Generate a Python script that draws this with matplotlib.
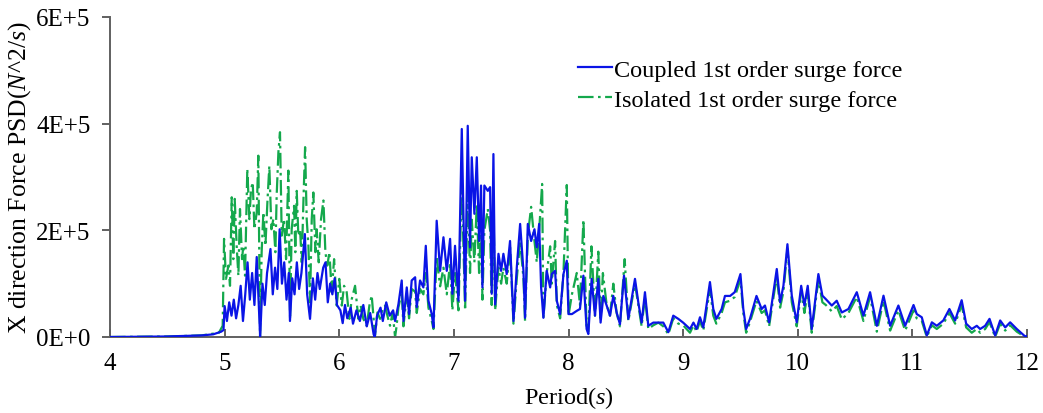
import matplotlib
matplotlib.use("Agg")
import matplotlib.pyplot as plt
import numpy as np

plt.rcParams['font.family'] = ['Liberation Serif', 'DejaVu Serif']
plt.rcParams['mathtext.fontset'] = 'custom'
plt.rcParams['mathtext.rm'] = 'Liberation Serif'
plt.rcParams['mathtext.it'] = 'Liberation Serif:italic'

# coupled 1st order surge force, PSD in units of 1E+4
coupled_period = [4.0, 4.5, 4.8, 4.9, 4.97, 4.99,
    5.00, 5.02, 5.04, 5.06, 5.08, 5.10, 5.12, 5.14, 5.16, 5.18, 5.20, 5.22, 5.24, 5.26,
    5.28, 5.31, 5.33, 5.35, 5.37, 5.40, 5.42, 5.44, 5.46, 5.48, 5.50, 5.52, 5.54, 5.56,
    5.57, 5.59, 5.61, 5.63, 5.65, 5.67, 5.70, 5.72, 5.745, 5.77, 5.79, 5.81, 5.83, 5.86,
    5.88, 5.90, 5.92, 5.94, 5.96, 5.98, 6.01, 6.03, 6.05, 6.07, 6.10, 6.12, 6.15, 6.18,
    6.21, 6.24, 6.27, 6.30, 6.31, 6.33, 6.36, 6.38, 6.41, 6.44, 6.47,
    6.487, 6.516, 6.545, 6.56, 6.589, 6.609, 6.632, 6.662, 6.676, 6.705, 6.734, 6.755,
    6.778, 6.807, 6.822, 6.85, 6.88, 6.909, 6.938, 6.967, 6.987, 7.01, 7.04, 7.069,
    7.098, 7.121, 7.141, 7.156, 7.179, 7.2, 7.22, 7.237, 7.249, 7.266, 7.296, 7.316,
    7.33, 7.345, 7.36, 7.389, 7.412, 7.432, 7.461, 7.49, 7.52, 7.549, 7.578, 7.607,
    7.621, 7.645, 7.674, 7.703, 7.723, 7.744, 7.761, 7.781, 7.81, 7.84, 7.854, 7.883,
    7.898, 7.927, 7.956, 7.985, 8.0, 8.03, 8.072, 8.1,
    8.13, 8.158, 8.173, 8.202, 8.231, 8.26, 8.28, 8.304, 8.333, 8.362, 8.391, 8.42,
    8.449, 8.484, 8.522, 8.58, 8.609, 8.638, 8.667, 8.696, 8.74, 8.784, 8.827, 8.871,
    8.914, 8.958, 9.0, 9.03, 9.06, 9.09, 9.118, 9.147, 9.176, 9.234, 9.263, 9.29,
    9.336, 9.365, 9.41, 9.45, 9.5, 9.525, 9.55, 9.583, 9.64, 9.685, 9.714,
    9.75, 9.817, 9.846, 9.875, 9.91, 9.948, 9.991, 10.03, 10.058, 10.087, 10.122, 10.18,
    10.215, 10.245, 10.297, 10.34, 10.384, 10.442, 10.515, 10.573, 10.631, 10.69, 10.748,
    10.806, 10.878,
    10.937, 11.01, 11.038, 11.082, 11.126, 11.17, 11.213, 11.27, 11.323, 11.373, 11.43,
    11.469, 11.518, 11.562, 11.591, 11.635, 11.673, 11.722, 11.766, 11.81, 11.853,
    11.911, 11.984, 12.0]
coupled_psd = [0, 0.1, 0.3, 0.5, 1.0, 1.3,
    5.8, 3.0, 6.5, 4.0, 7.0, 3.5, 6.0, 9.6, 3.0, 8.0, 14.0, 7.0, 12.0, 6.0,
    15.0, 0.0, 10.0, 6.0, 12.0, 16.5, 8.0, 13.0, 9.0, 20.2, 10.0, 14.0, 7.0, 12.0,
    3.0, 11.0, 8.0, 14.0, 9.0, 12.0, 19.3, 8.0, 3.4, 11.0, 7.0, 12.0, 9.0, 13.0,
    14.0, 6.5, 10.0, 8.0, 11.0, 6.0, 5.0, 2.6, 6.0, 3.5, 5.5, 2.5, 5.0, 3.0,
    6.0, 2.0, 4.5, 0.5, 0.0, 4.0, 5.5, 3.0, 6.5, 4.0, 5.0,
    3.0, 6.1, 10.6, 3.0, 9.3, 4.3, 10.6, 11.2, 5.6, 10.6, 9.3, 17.1,
    6.8, 4.3, 1.8, 21.8, 12.4, 18.7, 12.4, 18.4, 8.1, 17.1, 6.8, 39.0,
    6.8, 39.6, 16.8, 33.7, 23.1, 33.7, 18.0, 28.4, 9.3, 28.4, 27.4, 28.1,
    8.1, 34.3, 6.1, 15.6, 12.4, 15.6, 11.8, 18.0, 3.0, 13.1, 21.2, 12.4,
    3.6, 21.2, 18.0, 20.2, 16.8, 21.2, 9.3, 3.6, 12.4, 9.3, 11.8, 12.4,
    6.8, 4.3, 11.8, 14.3, 4.3, 4.3, 4.9, 5.25,
    11.5, 1.5, 0.56, 10.9, 4.0, 10.9, 2.7, 7.7, 5.9, 4.0, 7.7, 4.6,
    2.4, 11.5, 3.4, 10.9, 6.5, 2.7, 8.4, 2.1, 2.7, 2.7, 2.7, 0.9,
    4.0, 3.4, 2.7, 2.1, 1.5, 2.7, 1.5, 3.7, 1.8, 10.3, 5.25, 3.4,
    5.25, 7.7, 7.7, 8.4, 11.8, 5.25, 1.5, 3.4, 7.7, 5.25, 5.9,
    2.75, 12.75, 6.5, 9.6, 17.4, 7.75, 2.75, 9.6, 5.9, 9.6, 1.5, 11.8,
    7.75, 7.1, 5.9, 6.8, 4.6, 5.25, 8.4, 4.0, 8.4, 2.1, 7.75,
    2.1, 5.9,
    2.1, 6.0, 4.3, 3.7, 0.3, 2.75, 2.1, 3.1, 5.25, 3.1, 6.9,
    2.5, 1.5, 2.1, 1.5, 2.1, 3.4, 0.3, 3.1, 1.8, 2.75,
    1.5, 0.1, 0.2]

# isolated 1st order surge force, PSD in units of 1E+4
isolated_period = [4.0, 4.5, 4.8, 4.95, 4.983,
    4.995, 5.012, 5.033, 5.047, 5.062, 5.076, 5.088, 5.105, 5.12, 5.134, 5.152, 5.163,
    5.178, 5.198, 5.216, 5.23, 5.245, 5.26, 5.28, 5.294, 5.309, 5.323, 5.338, 5.356,
    5.373, 5.39, 5.408, 5.425, 5.443, 5.454, 5.469, 5.483, 5.498, 5.518, 5.536, 5.556,
    5.571, 5.585, 5.606, 5.617, 5.629, 5.643, 5.658, 5.673, 5.687, 5.702, 5.716, 5.731,
    5.745, 5.76, 5.774, 5.792, 5.803, 5.821, 5.841, 5.862, 5.879, 5.896, 5.914, 5.934,
    5.955, 5.978, 6.0, 6.022, 6.042, 6.065, 6.088, 6.109, 6.138, 6.167, 6.187, 6.21,
    6.24, 6.263, 6.283, 6.312, 6.333, 6.356, 6.38, 6.4, 6.42, 6.443, 6.466, 6.487,
    6.50, 6.516, 6.545, 6.56, 6.589, 6.609, 6.632, 6.662, 6.676, 6.705, 6.734, 6.755,
    6.778, 6.807, 6.822, 6.85, 6.88, 6.909, 6.938, 6.967, 6.987, 7.01, 7.04, 7.069,
    7.098, 7.121, 7.141, 7.156, 7.179, 7.2, 7.22, 7.237, 7.249, 7.266, 7.296, 7.316,
    7.33, 7.345, 7.36, 7.389, 7.412, 7.432, 7.461, 7.49, 7.52, 7.549, 7.578, 7.607,
    7.621, 7.645, 7.674, 7.703, 7.723, 7.744, 7.77, 7.781, 7.81, 7.84, 7.854, 7.883,
    7.898, 7.927, 7.956, 7.985, 8.0, 8.03, 8.072, 8.1, 8.13,
    8.158, 8.173, 8.20, 8.231, 8.26, 8.28, 8.30, 8.333, 8.362, 8.391, 8.42, 8.449,
    8.49, 8.522, 8.58, 8.609, 8.638, 8.667, 8.696, 8.74, 8.784, 8.827, 8.871, 8.914,
    8.958, 9.0, 9.03, 9.06, 9.09, 9.118, 9.147, 9.176, 9.234, 9.263, 9.29, 9.336,
    9.365, 9.41, 9.45, 9.5, 9.525, 9.55, 9.583, 9.64, 9.685, 9.714,
    9.75, 9.817, 9.846, 9.875, 9.91, 9.948, 9.991, 10.03, 10.058, 10.087, 10.122, 10.18,
    10.215, 10.245, 10.297, 10.34, 10.384, 10.442, 10.515, 10.573, 10.631, 10.69, 10.748,
    10.806, 10.878,
    10.937, 11.01, 11.038, 11.082, 11.126, 11.17, 11.213, 11.27, 11.323, 11.373, 11.43,
    11.469, 11.518, 11.562, 11.591, 11.635, 11.673, 11.722, 11.766, 11.81, 11.853,
    11.911, 11.984, 12.0]
isolated_psd = [0, 0.1, 0.3, 0.8, 2.1,
    18.4, 10.9, 13.4, 9.6, 26.2, 14.6, 25.9, 17.1, 11.5, 24.0, 14.6, 17.1,
    11.5, 31.5, 22.1, 27.7, 29.0, 20.2, 23.4, 34.0, 0.0, 15.9, 23.4, 17.1,
    25.2, 32.1, 20.2, 22.1, 15.9, 26.5, 34.6, 38.4, 19.0, 22.1, 14.6, 31.2,
    3.4, 20.2, 24.6, 15.9, 27.4, 19.0, 20.2, 14.0, 25.2, 35.6, 22.1, 17.1,
    6.5, 22.1, 27.1, 15.9, 20.2, 14.0, 22.1, 25.6, 15.9, 13.4, 15.9, 8.4,
    14.6, 5.9, 10.9, 5.9, 9.6, 8.4, 3.4, 7.1, 9.6, 3.4, 5.9, 3.4,
    2.1, 5.9, 7.8, 0.3, 4.6, 3.4, 5.3, 5.9, 4.0, 2.1, 4.6, 0.0,
    2.0, 5.5, 8.5, 2.0, 8.0, 3.5, 9.0, 8.5, 4.5, 9.0, 8.0, 12.0,
    5.5, 3.0, 1.5, 15.0, 9.5, 13.0, 8.0, 14.0, 5.0, 12.0, 5.0, 29.0,
    5.0, 27.0, 12.0, 22.0, 14.0, 25.0, 12.0, 22.0, 7.0, 20.0, 24.0, 20.0,
    6.0, 25.0, 5.0, 13.0, 10.0, 13.0, 10.0, 17.0, 2.5, 11.0, 18.0, 11.0,
    3.0, 19.0, 24.4, 18.0, 14.0, 20.0, 28.7, 3.5, 12.0, 17.0, 10.0, 18.0,
    6.0, 3.5, 12.0, 28.5, 4.0, 8.0, 12.0, 6.0, 22.0,
    1.5, 1.0, 17.0, 4.0, 16.0, 3.0, 12.0, 6.0, 4.0, 10.0, 4.5, 2.0,
    14.6, 3.0, 10.0, 6.0, 2.0, 7.5, 1.5, 2.2, 2.7, 2.0, 0.5, 3.5,
    2.5, 2.2, 1.5, 0.8, 2.2, 1.0, 3.0, 1.2, 9.0, 4.0, 2.5, 4.5,
    6.5, 6.8, 7.5, 10.8, 4.5, 0.8, 2.8, 6.8, 4.5, 5.0,
    2.0, 11.5, 5.5, 8.5, 16.5, 6.5, 2.0, 8.5, 4.5, 8.5, 0.8, 10.8,
    6.5, 6.0, 4.8, 5.8, 3.3, 4.5, 7.5, 3.0, 7.5, 1.0, 6.8,
    1.2, 5.0,
    1.2, 5.0, 3.5, 3.0, 0.0, 2.2, 1.5, 2.5, 4.5, 2.5, 6.0,
    1.8, 0.8, 1.5, 0.8, 1.5, 2.8, 0.0, 2.5, 1.2, 2.2,
    1.0, 0.0, 0.1]

y_ticks = [0, 2e5, 4e5, 6e5]
y_tick_labels = ['0E+0', '2E+5', '4E+5', '6E+5']
x_ticks = [4, 5, 6, 7, 8, 9, 10, 11, 12]

fig = plt.figure(figsize=(10.43, 4.14), dpi=100)
ax = fig.add_axes([110/1043, 1 - 338/414, 917/1043, 320/414])

ax.plot(coupled_period, np.array(coupled_psd) * 1e4, color='#0a14e6', lw=1.6,
        label='Coupled 1st order surge force', zorder=3)
ax.plot(isolated_period, np.array(isolated_psd) * 1e4, color='#14a84c', lw=1.6,
        dashes=(7, 2, 1.2, 2), label='Isolated 1st order surge force', zorder=2)

ax.set_xlim(4, 12)
ax.set_ylim(0, 6e5)
ax.set_xticks(x_ticks)
ax.set_yticks(y_ticks)
ax.set_yticklabels(y_tick_labels)

for s in ['top', 'right']:
    ax.spines[s].set_visible(False)
for s in ['left', 'bottom']:
    ax.spines[s].set_color('#606060')
    ax.spines[s].set_linewidth(1.4)

ax.tick_params(axis='x', direction='in', length=6, width=1.4, color='#606060',
               labelsize=18, pad=11)
ax.tick_params(axis='y', direction='out', length=6, width=1.4, color='#606060',
               labelsize=18, pad=8)

ax.set_xlabel(r'Period($\mathit{s}$)', fontsize=17.5, labelpad=7)
ax.set_ylabel(r'X direction Force PSD($\mathit{N}$^2/$\mathit{s}$)', fontsize=18.5, labelpad=2)

ax.legend(loc='upper left', bbox_to_anchor=(556/1043, 1 - 38/414),
          bbox_transform=fig.transFigure, frameon=False, fontsize=17.5,
          handlelength=1.4, handletextpad=0.08, labelspacing=0.32)

fig.savefig('out.png', dpi=100)
